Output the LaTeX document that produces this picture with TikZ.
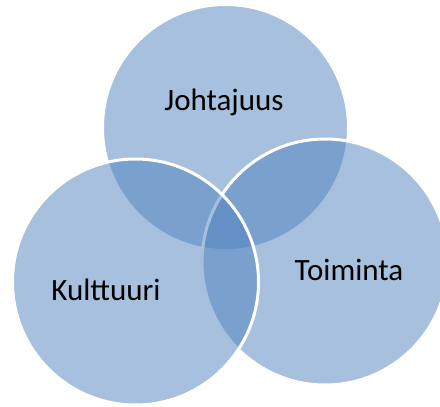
\documentclass[tikz,border=0pt]{standalone}
\usepackage{fontspec}
\setmainfont{Carlito}
\definecolor{accent}{RGB}{79,129,189}
\begin{document}
\begin{tikzpicture}[x=1pt,y=-1pt,
  venn/.style={fill=accent,fill opacity=0.5,draw=white,draw opacity=1,line width=3pt},
  lbl/.style={anchor=base,font=\fontsize{31}{36}\selectfont,text=black,inner sep=0pt}]
\useasboundingbox (0,0) rectangle (440,407);
\clip (0,0) rectangle (440,407);
\node[venn,circle,minimum size=246pt,inner sep=0pt] (top) at (225.5,127.5) {};
\node[venn,circle,minimum size=246pt,inner sep=0pt] (right) at (325,262) {};
\node[venn,circle,minimum size=246pt,inner sep=0pt] (left) at (135.5,282) {};
\node[lbl] (tj) at (224,110) {Johtajuus};
\node[lbl] (tt) at (349,280) {Toiminta};
\node[lbl] (tk) at (106,300) {Kulttuuri};
\end{tikzpicture}
\end{document}
